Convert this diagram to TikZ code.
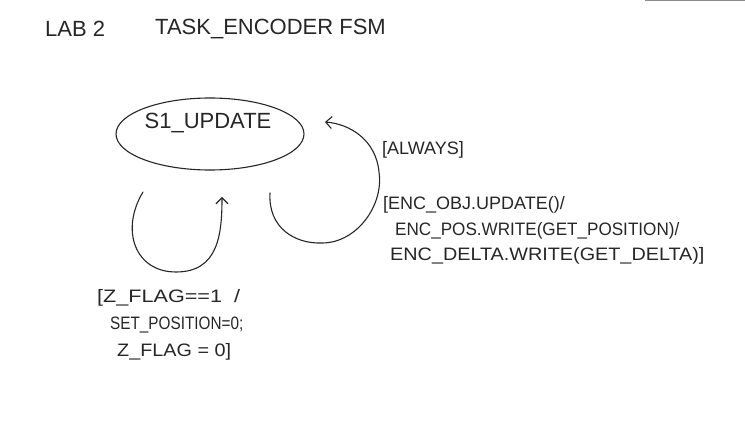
\documentclass[tikz,border=0pt]{standalone}
\usepackage{fontspec}
\setmainfont{Liberation Sans}
\usetikzlibrary{shapes.geometric,arrows.meta}
\begin{document}
\begin{tikzpicture}[x=1pt,y=-1pt,
  ink/.style={draw=black!85,line width=1.1pt,line cap=round},
  hand/.style={text=black!85,inner sep=0pt,anchor=west,font=\fontsize{18}{22}\selectfont},
  title/.style={text=black!85,inner sep=0pt,anchor=west,font=\fontsize{22}{26}\selectfont},
  barb/.style={-{Straight Barb[length=6pt,width=12pt,line width=1.1pt]}}]
\useasboundingbox (0,0) rectangle (745,435);
% scan edge
\draw[black!45,line width=2pt] (645,0.5) -- (745,0.5);
% title
\node[title] (lab) at (45,29) {LAB 2};
\node[title] (ttl) at (155,29) {TASK\_ENCODER FSM};
% state
\node[ink,ellipse,minimum width=188pt,minimum height=72pt] (s1) at (210,134) {};
\node[text=black!85,inner sep=0pt,font=\fontsize{22}{26}\selectfont] (s1label) at (208,123) {S1\_UPDATE};
% left self loop
\coordinate (la) at (143,192);
\coordinate (lb) at (176,272);
\coordinate (lc) at (222,197);
\draw[ink,barb] (la) .. controls (120,230) and (135,272) .. (lb) .. controls (218,272) and (222,235) .. (lc);
% right self loop
\coordinate (ra) at (270,193);
\coordinate (rb) at (322,243);
\coordinate (rc) at (379,172);
\coordinate (rd) at (325,122);
\draw[ink,barb] (ra) .. controls (268,228) and (295,244) .. (rb) .. controls (357,243) and (384,205) .. (rc) .. controls (376,140) and (350,124) .. (rd);
% labels
\node[hand] (alw) at (382,150) {[ALWAYS]};
\node[hand] (r1) at (383,205) {[ENC\_OBJ.UPDATE()/};
\node[hand] (r2) at (395,231) {\scalebox{0.95}[1]{ENC\_POS.WRITE(GET\_POSITION)/}};
\node[hand] (r3) at (390,256) {\scalebox{1.1}[1]{ENC\_DELTA.WRITE(GET\_DELTA)]}};
\node[hand] (b1) at (97,298) {\scalebox{1.2}[1]{[Z\_FLAG==1 \ /}};
\node[hand] (b2) at (110,325) {\scalebox{0.85}[1]{SET\_POSITION=0;}};
\node[hand] (b3) at (117,352) {\scalebox{1.1}[1]{Z\_FLAG = 0]}};
\end{tikzpicture}
\end{document}
